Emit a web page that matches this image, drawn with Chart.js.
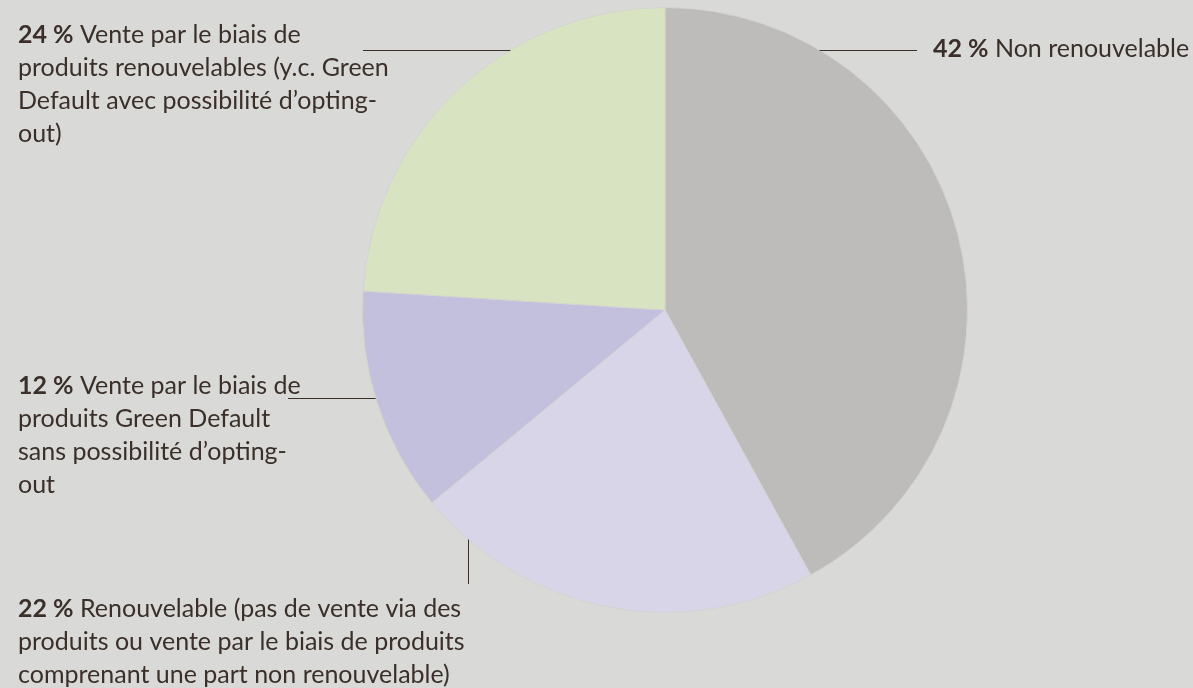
<!DOCTYPE html>
<html><head><meta charset="utf-8">
<script src="https://cdn.jsdelivr.net/npm/chart.js@4/dist/chart.umd.min.js"></script>
<style>html,body{margin:0;padding:0;background:#d9d9d7;}#wrap{width:1193px;height:688px;}</style>
</head><body><div id="wrap"><canvas id="c" width="1193" height="688"></canvas></div>
<script>
const categories = ["Non renouvelable","Renouvelable (pas de vente via des produits ou vente par le biais de produits comprenant une part non renouvelable)","Vente par le biais de produits Green Default sans possibilité d’opting-out","Vente par le biais de produits renouvelables (y.c. Green Default avec possibilité d’opting-out)"];
const values = [42, 22, 12, 24];
const colors = ["#bdbcba", "#d8d5e8", "#c3c0de", "#d8e4c1"];
const labelLines = [
  [["42 %"," Non renouvelable"]],
  [["22 %"," Renouvelable (pas de vente via des"],["","produits ou vente par le biais de produits"],["","comprenant une part non renouvelable)"]],
  [["12 %"," Vente par le biais de"],["","produits Green Default"],["","sans possibilité d’opting-"],["","out"]],
  [["24 %"," Vente par le biais de"],["","produits renouvelables (y.c. Green"],["","Default avec possibilité d’opting-"],["","out)"]]
];
const FONT = '"Lato", "Open Sans", sans-serif';
const FS = 25, LH = 33, TXT = '#3b2f29';
const layout = [
  {tx:933, ty:49, line:{type:'h', y:50, to:917}},
  {tx:18, ty:609, line:{type:'v', x:468, to:584}},
  {tx:18, ty:386, line:{type:'h', y:398, to:288}},
  {tx:18, ty:35, line:{type:'h', y:50, to:363}}
];
const labelPlugin = {
  id:'labels',
  afterDatasetsDraw(chart){
    const ctx = chart.ctx;
    const arc = chart.getDatasetMeta(0).data[0];
    const cx = arc.x, cy = arc.y, r = arc.outerRadius;
    ctx.save();
    ctx.strokeStyle = '#3b2f29'; ctx.lineWidth = 1;
    layout.forEach((L,i)=>{
      const ln = L.line;
      ctx.beginPath();
      if(ln.type==='h'){
        const dy = ln.y - cy; const dx = Math.sqrt(Math.max(0,r*r-dy*dy));
        const ex = ln.to > cx ? cx+dx : cx-dx;
        ctx.moveTo(ex, ln.y+0.5); ctx.lineTo(ln.to, ln.y+0.5);
      } else {
        const dx = ln.x - cx; const dy = Math.sqrt(Math.max(0,r*r-dx*dx));
        ctx.moveTo(ln.x+0.5, cy+dy); ctx.lineTo(ln.x+0.5, ln.to);
      }
      ctx.stroke();
      ctx.textBaseline='middle'; ctx.fillStyle = TXT;
      labelLines[i].forEach((parts,j)=>{
        let x = L.tx; const y = L.ty + j*LH;
        if(parts[0]){ ctx.font = 'bold '+FS+'px '+FONT; ctx.fillText(parts[0], x, y); x += ctx.measureText(parts[0]).width; }
        ctx.font = FS+'px '+FONT; ctx.fillText(parts[1], x, y);
      });
    });
    ctx.restore();
  }
};
new Chart(document.getElementById('c'), {
  type:'pie',
  data:{labels:categories, datasets:[{data:values, backgroundColor:colors, borderColor:'#d3d3d0', borderWidth:1}]},
  options:{responsive:false, animation:false, events:[],
    layout:{padding:{top:7,bottom:75,left:362,right:225}},
    plugins:{legend:{display:false}, tooltip:{enabled:false}}},
  plugins:[labelPlugin]
});
</script></body></html>
